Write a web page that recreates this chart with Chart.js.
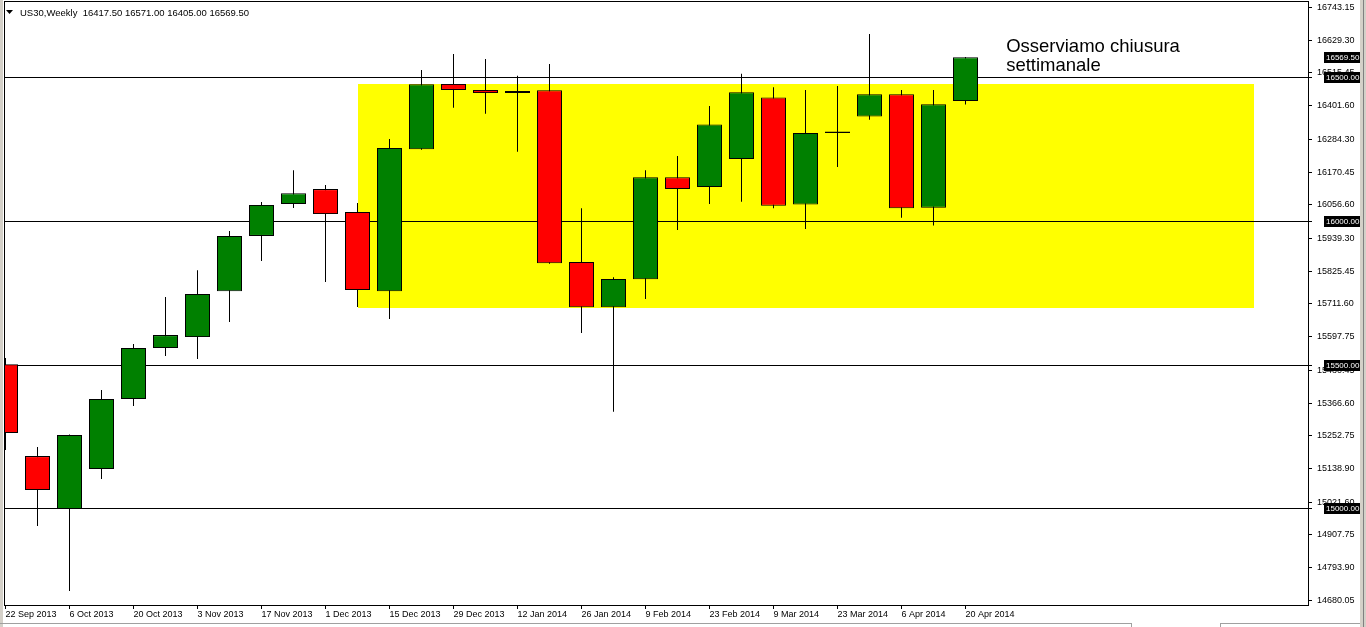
<!DOCTYPE html>
<html>
<head>
<meta charset="utf-8">
<title>US30 Weekly</title>
<script src="https://cdn.jsdelivr.net/npm/chart.js@4.4.1/dist/chart.umd.min.js"></script>
<style>
  html, body { margin: 0; padding: 0; background: #fff; overflow: hidden; }
  #wrap { width: 1366px; height: 627px; position: relative; }
</style>
</head>
<body>
<div id="wrap"><canvas id="myChart"></canvas></div>
<script>
// weekly candles, US30
const weeks = ['22 Sep 2013', '29 Sep 2013', '6 Oct 2013', '13 Oct 2013', '20 Oct 2013', '27 Oct 2013',
  '3 Nov 2013', '10 Nov 2013', '17 Nov 2013', '24 Nov 2013', '1 Dec 2013', '8 Dec 2013', '15 Dec 2013',
  '22 Dec 2013', '29 Dec 2013', '5 Jan 2014', '12 Jan 2014', '19 Jan 2014', '26 Jan 2014', '2 Feb 2014',
  '9 Feb 2014', '16 Feb 2014', '23 Feb 2014', '2 Mar 2014', '9 Mar 2014', '16 Mar 2014', '23 Mar 2014',
  '30 Mar 2014', '6 Apr 2014', '13 Apr 2014', '20 Apr 2014'];

const openPrices  = [15502, 15182, 14998, 15137, 15381, 15558, 15596, 15756, 15948, 16059, 16111, 16031, 15756, 16250, 16477, 16456,
  16445, 16455, 15857, 15700, 15797, 16152, 16118, 16216, 16430, 16057, 16306, 16364, 16441, 16046, 16417.5];
const highPrices  = [15523, 15214, 15257, 15412, 15572, 15736, 15829, 15965, 16066, 16177, 16125, 16063, 16285, 16525, 16581, 16564,
  16505, 16546, 16044, 15804, 16177, 16226, 16400, 16512, 16465, 16456, 16470, 16651, 16456, 16456, 16571];
const lowPrices   = [15203, 14939, 14713, 15102, 15356, 15530, 15520, 15649, 15861, 16045, 15788, 15701, 15659, 16248, 16394, 16373,
  16241, 15851, 15610, 15336, 15729, 15969, 16059, 16067, 16044, 15972, 16188, 16352, 16011, 15984, 16405];
const closePrices = [15262, 15064, 15255, 15381, 15558, 15603, 15746, 15948, 16056, 16097, 16024, 15760, 16254, 16476, 16456, 16445,
  16452, 15853, 15700, 15798, 16152, 16111, 16336, 16448, 16053, 16306, 16311, 16441, 16044, 16406, 16569.5];

const priceTicks = [16743.15, 16629.30, 16515.45, 16401.60, 16284.30, 16170.45, 16056.60, 15939.30, 15825.45, 15711.60,
  15597.75, 15480.45, 15366.60, 15252.75, 15138.90, 15021.60, 14907.75, 14793.90, 14680.05];
const levels = [16500, 16000, 15500, 15000];
const markedPrices = [16569.50, 16500, 16000, 15500, 15000];
const zone = { from: 11, to: 39, low: 15698, high: 16476 };
const headerText = 'US30,Weekly  16417.50 16571.00 16405.00 16569.50';
const noteLines = ['Osserviamo chiusura', 'settimanale'];

const tickIdx = weeks.map((w, i) => i).filter(i => i % 2 === 0);
const xMin = -0.046875, xMax = 40.703125;
const yMin = 14663.9, yMax = 16765.5;
const FONT = 'Liberation Sans';

const extras = {
  id: 'extras',
  beforeDraw(chart) {
    const c = chart.ctx, W = chart.width, H = chart.height;
    c.save();
    c.fillStyle = '#fff';
    c.fillRect(0, 0, W, H);
    c.fillStyle = '#d4d0c8';
    c.fillRect(0, 0, 3, H);
    c.fillRect(1360, 0, 6, H);
    c.fillStyle = '#808080';
    c.fillRect(1363, 0, 1, H);
    c.fillStyle = '#a0a0a0';
    c.fillRect(0, 623, 1131, 1);
    c.fillRect(1220, 623, 140, 1);
    c.fillRect(1131, 623, 1, 4);
    c.fillRect(1220, 623, 1, 4);
    c.restore();
  },
  beforeDatasetsDraw(chart) {
    const { ctx: c, chartArea: a, scales: { x, y } } = chart;
    c.save();
    const zx0 = Math.round(x.getPixelForValue(zone.from));
    const zx1 = Math.round(x.getPixelForValue(zone.to));
    const zy0 = Math.round(y.getPixelForValue(zone.high));
    const zy1 = Math.round(y.getPixelForValue(zone.low));
    c.fillStyle = '#ffff00';
    c.fillRect(zx0, zy0, zx1 - zx0, zy1 - zy0);
    c.strokeStyle = '#000';
    c.lineWidth = 1;
    levels.forEach(l => {
      const py = Math.round(y.getPixelForValue(l)) + 0.5;
      c.beginPath();
      c.moveTo(a.left, py);
      c.lineTo(a.right + 4, py);
      c.stroke();
    });
    c.restore();
  },
  afterDraw(chart) {
    const { ctx: c, chartArea: a, scales: { x, y } } = chart;
    c.save();
    c.strokeStyle = '#000';
    c.lineWidth = 1;
    c.strokeRect(Math.round(a.left) + 0.5, Math.round(a.top) + 0.5,
      Math.round(a.right - a.left), Math.round(a.bottom - a.top));

    // price boxes on the axis
    c.font = '8px "' + FONT + '"';
    c.textBaseline = 'middle';
    c.textAlign = 'left';
    markedPrices.forEach(p => {
      const py = Math.round(y.getPixelForValue(p));
      c.fillStyle = '#000';
      c.fillRect(a.right + 16, py - 5, 36, 11);
      c.fillStyle = '#fff';
      c.fillText(p.toFixed(2), a.right + 18, py + 0.5);
    });

    // header
    c.fillStyle = '#000';
    c.beginPath();
    c.moveTo(6, 10); c.lineTo(13, 10); c.lineTo(9.5, 14); c.closePath();
    c.fill();
    c.font = '9.5px "' + FONT + '"';
    c.fillText(headerText, 20, 13.5);

    // note
    c.font = '18.5px "' + FONT + '"';
    c.textBaseline = 'alphabetic';
    const nx = x.getPixelForValue(31.27);
    const ny = y.getPixelForValue(16588);
    noteLines.forEach((t, i) => c.fillText(t, nx, ny + i * 19));
    c.restore();
  }
};

const ctx = document.getElementById('myChart');

new Chart(ctx, {
  type: 'bar',
  data: {
    datasets: [
      {
        label: 'body',
        order: 1,
        grouped: false,
        data: weeks.map((w, i) => ({ x: i, y: [openPrices[i], closePrices[i]] })),
        backgroundColor: closePrices.map((cl, i) => cl >= openPrices[i] ? '#008000' : '#ff0000'),
        borderColor: '#000',
        borderWidth: 1,
        borderSkipped: false,
        barThickness: 25,
        inflateAmount: 0
      },
      {
        label: 'wick',
        order: 2,
        grouped: false,
        data: weeks.map((w, i) => ({ x: i, y: [lowPrices[i], highPrices[i]] })),
        backgroundColor: '#000',
        borderWidth: 0,
        barThickness: 1,
        inflateAmount: 0
      }
    ]
  },
  options: {
    responsive: true,
    maintainAspectRatio: false,
    animation: false,
    devicePixelRatio: 1,
    layout: { padding: { left: 4, top: 1, right: 0, bottom: 0 } },
    plugins: { legend: { display: false }, tooltip: { enabled: false } },
    scales: {
      x: {
        type: 'linear',
        min: xMin,
        max: xMax,
        offset: false,
        grid: { drawOnChartArea: false, drawTicks: true, tickLength: 4, color: '#000', offset: false },
        border: { display: true, color: '#000' },
        ticks: {
          align: 'start', autoSkip: false, maxRotation: 0, padding: 0, color: '#000',
          font: { family: FONT, size: 9 },
          callback: v => weeks[v] ?? ''
        },
        afterBuildTicks: s => { s.ticks = tickIdx.map(v => ({ value: v })); },
        afterFit: s => { s.height = 22; s.paddingLeft = 0; s.paddingRight = 0; }
      },
      y: {
        position: 'right',
        min: yMin,
        max: yMax,
        beginAtZero: false,
        grid: { drawOnChartArea: false, drawTicks: true, tickLength: 4, color: '#000' },
        border: { display: true, color: '#000' },
        ticks: {
          autoSkip: false, padding: 5, color: '#000',
          font: { family: FONT, size: 9 },
          callback: v => Number(v).toFixed(2)
        },
        afterBuildTicks: s => { s.ticks = priceTicks.map(v => ({ value: v })); },
        afterFit: s => { s.width = 58; s.paddingTop = 0; s.paddingBottom = 0; }
      }
    }
  },
  plugins: [extras]
});
</script>
</body>
</html>
